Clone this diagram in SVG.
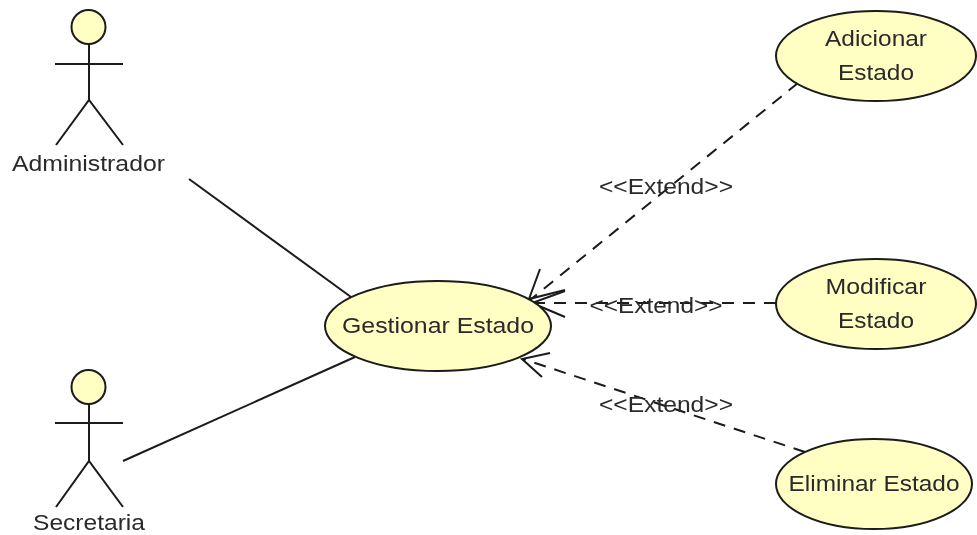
<svg xmlns="http://www.w3.org/2000/svg" width="977" height="535" viewBox="0 0 977 535">
<style>
.n{fill:#ffffc4;stroke:#1a1a1a;stroke-width:2}
.a{fill:none;stroke:#1a1a1a;stroke-width:2}
.d{fill:none;stroke:#1a1a1a;stroke-width:2;stroke-dasharray:12 9}
text{font-family:"Liberation Sans",Arial,sans-serif;font-size:22px;fill:#2a2a2a;text-anchor:middle}
</style>
<defs><filter id="soft" filterUnits="userSpaceOnUse" x="0" y="0" width="977" height="535"><feGaussianBlur stdDeviation="0.5"/></filter></defs>
<rect width="977" height="535" fill="#fff"/>
<g filter="url(#soft)">
<g id="connectors">
<path class="a" d="M189 179L351 297"/>
<path class="a" d="M123 461L355 357"/>
<path class="d" d="M798 83L530 300"/>
<path class="a" d="M540 269L529 299L565 290"/>
<path class="d" d="M776 303L532 303"/>
<path class="a" d="M565 291L532 303L565 317"/>
<path class="d" d="M805 452L523 359"/>
<path class="a" d="M550 353L522 359L542 377"/>
<text x="666" y="194" textLength="134" lengthAdjust="spacingAndGlyphs">&lt;&lt;Extend&gt;&gt;</text>
<text x="656" y="313" textLength="133" lengthAdjust="spacingAndGlyphs">&lt;&lt;Extend&gt;&gt;</text>
<text x="666" y="412" textLength="134" lengthAdjust="spacingAndGlyphs">&lt;&lt;Extend&gt;&gt;</text>
</g>
<g id="administrador">
<circle class="n" cx="88.500" cy="27" r="17"/>
<path class="a" d="M89 44V100M55 64H123M56 145L89 100L123 145"/>
<text x="88.500" y="171" textLength="153" lengthAdjust="spacingAndGlyphs">Administrador</text>
</g>
<g id="secretaria">
<circle class="n" cx="88.500" cy="387" r="17"/>
<path class="a" d="M89 404V461M55 423H123M56 507L89 461L123 507"/>
<text x="89" y="530" textLength="112" lengthAdjust="spacingAndGlyphs">Secretaria</text>
</g>
<g id="gestionar"><ellipse class="n" cx="438" cy="326" rx="113" ry="45"/><text x="438" y="333" textLength="192" lengthAdjust="spacingAndGlyphs">Gestionar Estado</text></g>
<g id="adicionar"><ellipse class="n" cx="876" cy="56" rx="100" ry="45"/><text x="876" y="46" textLength="102" lengthAdjust="spacingAndGlyphs">Adicionar</text><text x="876" y="80" textLength="76" lengthAdjust="spacingAndGlyphs">Estado</text></g>
<g id="modificar"><ellipse class="n" cx="876" cy="304" rx="100" ry="45"/><text x="876" y="294" textLength="101" lengthAdjust="spacingAndGlyphs">Modificar</text><text x="876" y="328" textLength="76" lengthAdjust="spacingAndGlyphs">Estado</text></g>
<g id="eliminar"><ellipse class="n" cx="874" cy="484" rx="98" ry="45"/><text x="874" y="491" textLength="171" lengthAdjust="spacingAndGlyphs">Eliminar Estado</text></g>
</g>
</svg>
